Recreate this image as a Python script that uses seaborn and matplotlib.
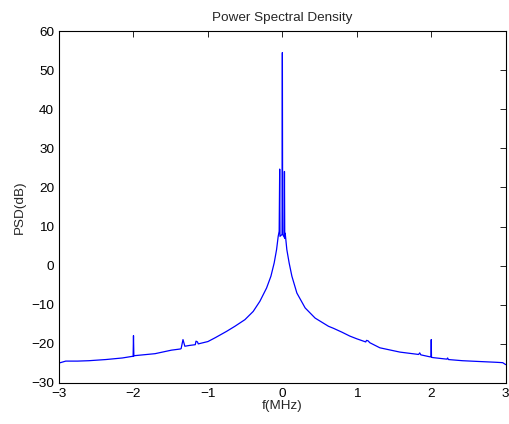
import matplotlib
matplotlib.use("Agg")
import matplotlib.pyplot as plt
import seaborn as sns

# PSD curve (frequency in MHz, level in dB)
freq_mhz = [-3.0, -2.91, -2.75, -2.6, -2.37, -2.15, -2.02, -2.005, -2.0, -1.995,
            -1.98, -1.71, -1.49, -1.37, -1.36, -1.335, -1.31, -1.25, -1.17, -1.16,
            -1.14, -1.13, -1.0, -0.9, -0.75, -0.638, -0.503, -0.392, -0.302, -0.212,
            -0.154, -0.11, -0.078, -0.056, -0.043, -0.036, -0.032, -0.004, 0.0, 0.004,
            0.024, 0.028, 0.032, 0.038, 0.06, 0.091, 0.128, 0.195, 0.306, 0.44,
            0.62, 0.685, 0.8, 0.906, 1.0, 1.12, 1.13, 1.15, 1.175, 1.31,
            1.58, 1.83, 1.845, 1.86, 1.98, 1.997, 2.0, 2.003, 2.02, 2.21,
            2.22, 2.23, 2.42, 2.64, 2.87, 2.96, 3.0]
psd_db = [-24.9, -24.4, -24.4, -24.3, -24.0, -23.6, -23.2, -23.2, -17.9, -23.1,
          -23.0, -22.5, -21.6, -21.3, -21.2, -18.9, -20.6, -20.4, -20.2, -19.3,
          -19.5, -20.0, -19.4, -18.4, -16.8, -15.5, -13.8, -11.7, -9.1, -5.7,
          -2.7, 0.7, 4.1, 7.5, 8.8, 24.7, 7.5, 8.0, 54.5, 8.0,
          7.3, 24.1, 7.0, 8.3, 4.1, 0.7, -2.7, -7.0, -10.8, -13.4,
          -15.5, -16.0, -17.0, -18.0, -18.7, -19.5, -19.1, -19.2, -19.7, -21.0,
          -22.1, -22.7, -22.3, -22.8, -23.3, -23.3, -18.9, -23.4, -23.5, -23.9,
          -23.6, -24.0, -24.3, -24.5, -24.7, -24.8, -25.3]

x_ticks = [-3, -2, -1, 0, 1, 2, 3]
y_ticks = [-30, -20, -10, 0, 10, 20, 30, 40, 50, 60]

sns.set_style("white")
plt.rcParams["font.family"] = ["Liberation Sans", "DejaVu Sans"]
plt.rcParams["font.size"] = 9.7

fig = plt.figure(figsize=(5.09, 4.24), dpi=100)
ax = fig.add_axes([0.116, 0.0967, 0.8775, 0.830])

sns.lineplot(x=freq_mhz, y=psd_db, ax=ax, color="#0000ff", linewidth=0.9,
             estimator=None, sort=False)

ax.set_xlim(-3, 3)
ax.set_ylim(-30, 60)
ax.set_xticks(x_ticks)
ax.set_yticks(y_ticks)
ax.set_xticklabels([str(t).replace("-", "\u2212") for t in x_ticks])
ax.set_yticklabels([str(t).replace("-", "\u2212") for t in y_ticks])
ax.tick_params(direction="in", length=4, width=0.6, top=True, right=True,
               labelsize=9.7, colors="black", pad=3.5)
for side in ax.spines.values():
    side.set_color("black")
    side.set_linewidth(0.8)

ax.set_title("Power Spectral Density", fontsize=9.7, pad=7)
ax.set_xlabel("f(MHz)", fontsize=9.7, labelpad=0)
ax.set_ylabel("PSD(dB)", fontsize=9.7, labelpad=4)

fig.savefig("out.png", dpi=100)
